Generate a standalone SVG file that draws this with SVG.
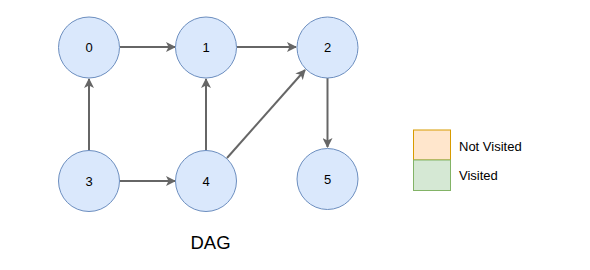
<svg xmlns="http://www.w3.org/2000/svg" width="590" height="270" viewBox="0 0 590 270">
<style>
.n{fill:#dae8fc;stroke:#6c8ebf;stroke-width:1}
.t{font-family:"Liberation Sans",Arial,sans-serif;font-size:13px;fill:#000;text-anchor:middle;dominant-baseline:central}
.e{stroke:#666666;stroke-width:2;fill:none;marker-end:url(#a)}
.l{font-family:"Liberation Sans",Arial,sans-serif;font-size:13px;fill:#000;dominant-baseline:central}
</style>
<defs>
<marker id="a" viewBox="0 0 10 10" refX="9" refY="5" markerWidth="5" markerHeight="5" orient="auto" markerUnits="strokeWidth">
<path d="M0,0 L10,5 L0,10 L2.5,5 Z" fill="#666666"/>
</marker>
</defs>
<g id="connectors">
<line class="e" x1="120" y1="47" x2="175" y2="47"/>
<line class="e" x1="237" y1="47" x2="296" y2="47"/>
<line class="e" x1="89" y1="151" x2="89" y2="79"/>
<line class="e" x1="206" y1="151" x2="206" y2="79"/>
<line class="e" x1="120" y1="181" x2="175" y2="181"/>
<line class="e" x1="227" y1="158" x2="305" y2="70"/>
<line class="e" x1="327.5" y1="78" x2="327.5" y2="147"/>
</g>
<g id="node0"><circle class="n" cx="89" cy="47.5" r="30.5"/><text class="t" x="89" y="47.5">0</text></g>
<g id="node1"><circle class="n" cx="206" cy="47.5" r="30.5"/><text class="t" x="206" y="47.5">1</text></g>
<g id="node2"><circle class="n" cx="327.5" cy="47.5" r="30.5"/><text class="t" x="327.5" y="47.5">2</text></g>
<g id="node3"><circle class="n" cx="89" cy="181" r="30.5"/><text class="t" x="89" y="181">3</text></g>
<g id="node4"><circle class="n" cx="206" cy="181" r="30.5"/><text class="t" x="206" y="181">4</text></g>
<g id="node5"><circle class="n" cx="327.5" cy="179" r="30.5"/><text class="t" x="327.5" y="179">5</text></g>
<g id="legend">
<rect x="413.5" y="130" width="37" height="30" fill="#ffe6cc" stroke="#d79b00"/>
<rect x="413.5" y="160" width="37" height="30.5" fill="#d5e8d4" stroke="#82b366"/>
<text class="l" x="459" y="146">Not Visited</text>
<text class="l" x="459" y="175">Visited</text>
</g>
<text id="title" class="t" x="210.5" y="242" style="font-size:18.5px">DAG</text>
</svg>
